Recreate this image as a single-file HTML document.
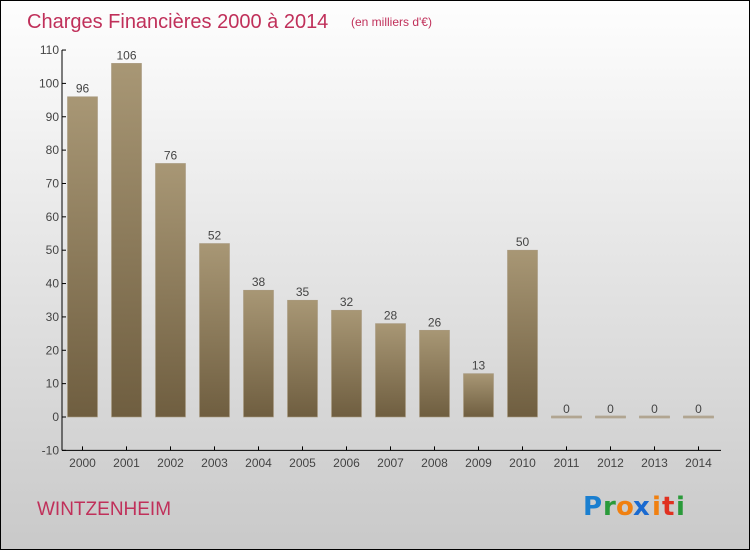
<!DOCTYPE html>
<html><head><meta charset="utf-8"><style>
body{margin:0}
#c{position:relative;width:748px;height:548px;border:1px solid #000;background:linear-gradient(#fefefe,#c9c9c9);font-family:"Liberation Sans",sans-serif;overflow:hidden}
</style></head><body>
<div id="c">
<svg width="748" height="548" style="position:absolute;left:0;top:0">
<defs>
<linearGradient id="bg" x1="0" y1="0" x2="0" y2="1"><stop offset="0" stop-color="#a89775"/><stop offset="1" stop-color="#6f5e40"/></linearGradient>
</defs>
<text x="26" y="27" font-size="20" fill="#c0305a">Charges Financières 2000 à 2014</text>
<text x="350" y="25" font-size="12" fill="#c0305a">(en milliers d'€)</text>
<g id="axes"></g><g id="bars"></g>
<text x="36" y="514" font-size="19" fill="#c0305a">WINTZENHEIM</text>
<g font-size="26" font-weight="bold" font-family="'DejaVu Sans',sans-serif">
<text x="582" y="514" fill="#1a7fd0">P</text><text x="602" y="514" fill="#2a9a3a">r</text><text x="615" y="514" fill="#f08010">o</text><text x="632" y="514" fill="#1a6ad0">x</text><text x="651" y="514" fill="#f08010">i</text><text x="661" y="514" fill="#e03020">t</text><text x="675" y="514" fill="#2a9a3a">i</text>
</g>
</svg>
</div>
<script>
const years=["2000","2001","2002","2003","2004","2005","2006","2007","2008","2009","2010","2011","2012","2013","2014"];
const values=[96,106,76,52,38,35,32,28,26,13,50,0,0,0,0];
const yTicks=[-10,0,10,20,30,40,50,60,70,80,90,100,110];
const NS="http://www.w3.org/2000/svg";
const y=v=>416-v*3.336;
const x=i=>81.5+i*44;
function mk(t,a,p){const e=document.createElementNS(NS,t);for(const k in a)e.setAttribute(k,a[k]);p.appendChild(e);return e;}
const ax=document.getElementById('axes'),bg=document.getElementById('bars');
let l=mk('line',{x1:61,y1:y(110),x2:61,y2:y(-10),stroke:'#000'},ax);


l=mk('line',{x1:61,y1:y(-10),x2:720,y2:y(-10),stroke:'#000'},ax);


yTicks.forEach(t=>{
 mk('line',{x1:61,y1:y(t),x2:65,y2:y(t),stroke:'#000'},ax);
 const tx=mk('text',{x:58,y:y(t)+4,'font-size':12,fill:'#444','text-anchor':'end'},ax);tx.textContent=t;
 
 
});
years.forEach((yr,i)=>{
 mk('line',{x1:x(i),y1:y(-10)-4,x2:x(i),y2:y(-10),stroke:'#000'},ax);
 const tx=mk('text',{x:x(i),y:466,'font-size':12,fill:'#444','text-anchor':'middle'},ax);tx.textContent=yr;
 
 
 const v=values[i];
 const h=Math.max(y(0)-y(v),2);
 const r=mk('rect',{x:x(i)-15,y:y(0)-h+(v===0?1:0),width:30,height:h,fill:v===0?'#b5aa98':'url(#bg)',stroke:'#a89a80','stroke-width':0.6},bg);
 
 
 const lb=mk('text',{x:x(i),y:y(v)-4,'font-size':12,fill:'#444','text-anchor':'middle'},bg);lb.textContent=v;
 
 
});
</script>
</body></html>
